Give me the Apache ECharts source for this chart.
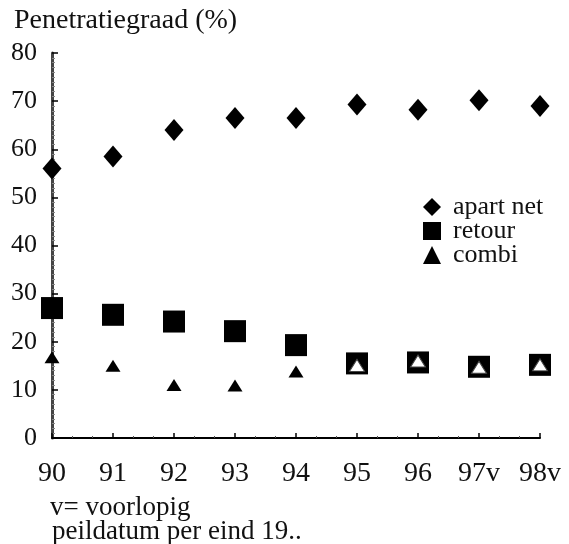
<!DOCTYPE html>
<html>
<head>
<meta charset="utf-8">
<script src="https://cdn.jsdelivr.net/npm/echarts@6/dist/echarts.min.js"></script>
<style>
  html, body { margin: 0; padding: 0; background: #fff; }
  #chart { width: 569px; height: 544px; }
</style>
</head>
<body>
<div id="chart"></div>
<script>
// Penetration rate (%) per year, three ways of collecting
const years = ['90', '91', '92', '93', '94', '95', '96', '97v', '98v'];
const apartNet = [56, 58.5, 64, 66.5, 66.5, 69.3, 68.2, 70.2, 69];
const retour = [27, 25.6, 24.2, 22.2, 19.3, 15.5, 15.7, 14.8, 15.2];
const combi = [16.8, 15, 11, 10.9, 13.8, 15.1, 16, 14.7, 15.2];
const yTicks = [0, 10, 20, 30, 40, 50, 60, 70, 80];

const serif = '"Liberation Serif", "DejaVu Serif", serif';
const ink = '#111';

const chart = echarts.init(document.getElementById('chart'));

// x runs over year indices so the axis can carry minor ticks
const pairs = arr => arr.map((v, i) => [i, v]);

// combi points that sit inside the retour squares are drawn hollow (white)
const combiData = combi.map((v, i) => {
  const item = { value: [i, v] };
  if (i >= 5) {
    item.itemStyle = { color: '#fff', borderColor: '#444', borderWidth: 1, opacity: 1 };
  }
  return item;
});

chart.setOption({
  animation: false,
  backgroundColor: '#fff',
  title: {
    text: 'Penetratiegraad (%)',
    left: 9,
    top: 2,
    textStyle: { fontFamily: serif, fontSize: 28, fontWeight: 'normal', color: ink }
  },
  legend: {
    orient: 'vertical',
    left: 418,
    top: 189,
    itemGap: -2,
    itemWidth: 18,
    itemHeight: 18,
    textStyle: { fontFamily: serif, fontSize: 26, color: ink, padding: [0, 0, 0, 7] },
    data: [
      { name: 'apart net', icon: 'diamond' },
      { name: 'retour', icon: 'rect' },
      { name: 'combi', icon: 'triangle' }
    ]
  },
  grid: { left: 52, right: 29, top: 53, bottom: 106, containLabel: false },
  xAxis: {
    type: 'value',
    min: 0,
    max: years.length - 1,
    interval: 1,
    axisLine: { lineStyle: { color: '#000', width: 2 } },
    axisTick: { inside: true, length: 5, lineStyle: { color: '#000', width: 1.5 } },
    minorTick: { show: true, splitNumber: 3, length: 2, lineStyle: { color: '#555', width: 1 } },
    splitLine: { show: false },
    axisLabel: {
      margin: 22,
      fontFamily: serif,
      fontSize: 28,
      color: ink,
      formatter: v => years[v] ?? ''
    }
  },
  yAxis: {
    type: 'value',
    min: yTicks[0],
    max: yTicks[yTicks.length - 1],
    interval: 10,
    axisLine: { lineStyle: { color: '#444', width: 3 } },
    axisTick: { inside: true, length: 6, lineStyle: { color: '#000', width: 1.5 } },
    minorTick: { show: true, splitNumber: 10, length: 3, lineStyle: { color: '#888', width: 1 } },
    splitLine: { show: false },
    axisLabel: { margin: 15, fontFamily: serif, fontSize: 26, color: ink }
  },
  graphic: [
    {
      type: 'text',
      left: 50,
      top: 494,
      style: { text: 'v= voorlopig', font: '27px ' + serif, fill: ink }
    },
    {
      type: 'text',
      left: 52,
      top: 518,
      style: { text: 'peildatum per eind 19..', font: '27px ' + serif, fill: ink }
    }
  ],
  series: [
    {
      name: 'apart net',
      type: 'scatter',
      symbol: 'diamond',
      symbolSize: [19, 22],
      itemStyle: { color: '#000', opacity: 1 },
      data: pairs(apartNet)
    },
    {
      name: 'retour',
      type: 'scatter',
      symbol: 'rect',
      symbolSize: 22,
      itemStyle: { color: '#000', opacity: 1 },
      data: pairs(retour)
    },
    {
      name: 'combi',
      type: 'scatter',
      symbol: 'triangle',
      symbolSize: [15, 12],
      itemStyle: { color: '#000', opacity: 1 },
      z: 3,
      data: combiData
    }
  ]
});
</script>
</body>
</html>
